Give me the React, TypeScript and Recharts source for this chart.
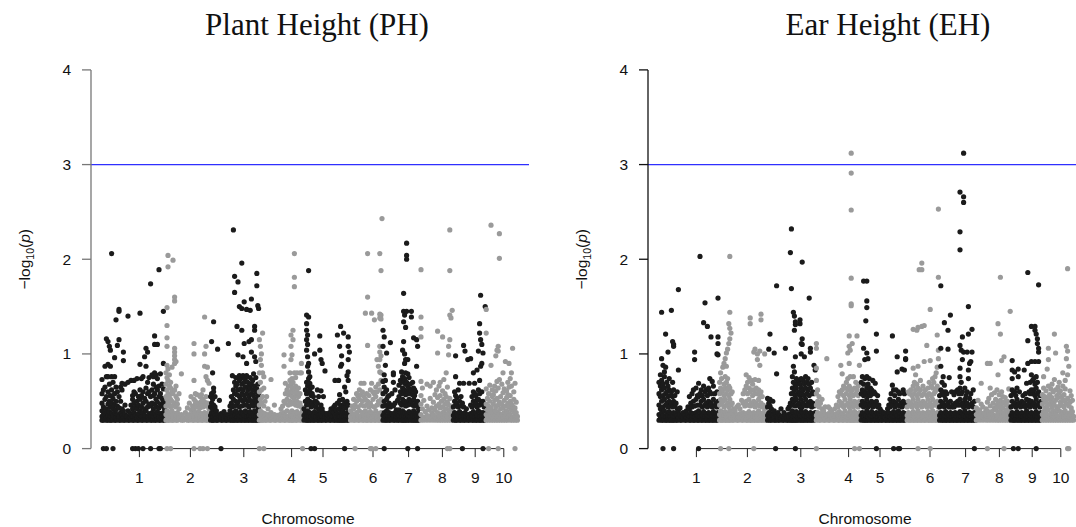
import { ReferenceLine, Scatter, ScatterChart, XAxis, YAxis } from "recharts";

// Each row: [cumulative position (Mb), then the -log10(p) values of the markers at that position]

// ---- Plant Height (PH) ----
const phChr1 = [
  [55, 0.3, 0.34, 0.4, 0.48, 0.58, 0.73], [62, 0.3, 0.36, 0.44, 0.62, 0], [70, 0.31, 0.38, 0.52, 0.65, 0.87],
  [77, 0.3, 0.33, 0.42, 0.55, 0.76, 1.16, 0], [85, 0.3, 0.35, 0.47, 0.6, 0.76, 1.13, 0.89], [92, 0.31, 0.39, 0.5, 0.68, 1.08],
  [97, 0.3, 0.34, 0.44, 0.56, 0.87, 1.04], [103, 0.3, 0.37, 0.48, 0.62, 0.76, 2.06], [110, 0.31, 0.35, 0.42, 0.53, 0.7, 0],
  [118, 0.3, 0.38, 0.46, 0.58, 0.76, 0.96], [125, 0.3, 0.33, 0.41, 0.5, 0.65, 1.36], [132, 0.31, 0.36, 0.45, 0.6, 1.09],
  [140, 0.3, 0.34, 0.43, 0.55, 1.15, 1.47, 1.45], [148, 0.3, 0.38, 0.5, 0.65], [155, 0.31, 0.35, 0.42, 0.62, 0.69],
  [162, 0.3, 0.33, 0.4, 1.02, 0.93], [170, 0.3, 0.36, 0.46, 0.68], [178, 0.31, 0.34], [185, 0.3, 0.4, 0.7, 1.4],
  [193, 0.3, 0.33, 0.38], [200, 0.31, 0.36, 0.46, 0.72], [208, 0.3, 0.34, 0.42, 0.56, 0.52, 0],
  [215, 0.3, 0.38, 0.48, 0.6, 0.72], [222, 0.31, 0.35, 0.44, 0.58, 0], [230, 0.3, 0.33, 0.42, 0.5, 0.74],
  [237, 0.3, 0.37, 0.46, 0.55, 0], [245, 0.31, 0.4, 0.52, 0.62, 0.89, 1.43], [252, 0.3, 0.34, 0.44, 0.56, 0.74],
  [260, 0.3, 0.38, 0.48, 0.6, 0.76, 0], [268, 0.31, 0.35, 0.42, 0.53, 0.97], [275, 0.3, 0.4, 0.5, 0.64, 0.87, 1.06],
  [283, 0.3, 0.34, 0.44, 0.58, 0.7, 1.02], [290, 0.31, 0.37, 0.47, 0.6, 0.75], [298, 0.3, 0.35, 0.45, 0.55, 1.74, 0],
  [305, 0.3, 0.38, 0.48, 0.62, 0.78], [312, 0.31, 0.34, 0.42, 0.56, 0.68, 0.76], [318, 0.3, 0.37, 0.47, 0.58, 0.8, 1.1, 1.19],
  [325, 0.3, 0.35, 0.44, 0.52, 0.65, 0.78], [332, 0.31, 0.39, 0.49, 0.62, 0.74, 1.1], [340, 0.3, 0.34, 0.43, 0.55, 0.66, 1.89, 0],
  [347, 0.3, 0.37, 0.47, 0.58, 0.79, 0], [355, 0.31, 0.35, 0.45, 0.53, 0.68], [362, 0.3, 0.38, 0.5, 0.63, 0.9, 1.45],
  [368, 0.3, 0.34, 0.42, 0.48],
];
const phChr2 = [
  [375, 0.3, 0.36, 0.45, 0.55, 0.68, 0.8], [380, 0.31, 0.4, 0.52, 0.62, 0.75, 0.88, 1.08, 1.17, 1.3, 1.49, 0],
  [385, 0.3, 0.34, 0.48, 0.58, 0.72, 0.84, 2.04, 1.92], [392, 0.3, 0.38, 0.46, 0.56, 0.66, 0.78],
  [398, 0.31, 0.35, 0.44, 0.52, 0.64, 0.7, 0], [405, 0.3, 0.4, 0.5, 0.6, 0.86], [410, 0.3, 0.34, 0.45, 0.58, 1.99],
  [418, 0.31, 0.37, 0.48, 0.62, 0.9, 0.94, 0.98, 1.02, 1.06, 1.56, 1.6], [425, 0.3, 0.35, 0.44, 0.55, 0.66, 0.92],
  [432, 0.3, 0.38, 0.47, 0.52], [440, 0.31, 0.34, 0.42, 0.58], [452, 0.3, 0.36, 0.79], [462, 0.3, 0.33],
  [472, 0.31, 0.38], [482, 0.3, 0.34, 0.43], [492, 0.3, 0.36, 0.48], [500, 0.31, 0.33, 0.41, 0.55],
  [508, 0.3, 0.37, 0.45], [515, 0.3, 0.34, 0.42, 0.52, 1.11, 1.0, 0.72, 0], [522, 0.31, 0.38, 0.47, 0.58, 0.5],
  [530, 0.3, 0.35, 0.44, 0.57], [538, 0.3, 0.39, 0.48], [545, 0.31, 0.34, 0.43, 0.55, 0],
  [552, 0.3, 0.37, 0.46, 0.57, 0.5], [560, 0.3, 0.35, 0.44, 0.52, 0.62, 0], [568, 0.31, 0.38, 0.49, 0.87, 1.39, 1.0],
  [575, 0.3, 0.34, 0.45, 0.55, 0.76, 1.08], [582, 0.3, 0.37, 0.48, 0.72, 0.86, 0], [590, 0.31, 0.35, 0.42, 0.69],
];
const phChr3 = [
  [598, 0.3, 0.35, 0.44, 0.55], [603, 0.31, 0.38, 0.48, 0.58, 1.13], [608, 0.3, 0.34, 0.42, 0.52, 0.8],
  [613, 0.3, 0.37, 0.46, 0.6, 0.64, 1.34], [620, 0.31, 0.35, 0.44, 0.55], [627, 0.3, 0.33, 0.4], [633, 0.3, 0.36, 1.05],
  [642, 0.31, 0.34, 0.51], [650, 0.3, 0.33, 0.37, 0], [658, 0.3, 0.35], [665, 0.31, 0.33, 0.39], [673, 0.3, 0.34],
  [680, 0.3, 0.32, 0.36], [687, 0.31, 0.35, 1.11], [695, 0.3, 0.33, 0.4, 0.45], [702, 0.3, 0.36, 0.48, 0.55],
  [707, 0.31, 0.34, 0.44, 0.77], [712, 0.3, 0.38, 0.52, 0.62, 2.31], [718, 0.3, 0.35, 0.45, 0.58, 0.7, 1.65, 1.82],
  [724, 0.31, 0.4, 0.5, 0.66, 0.75], [730, 0.3, 0.34, 0.46, 0.57, 0.68, 1.29], [735, 0.3, 0.37, 0.49, 0.62, 0.99, 1.76],
  [742, 0.31, 0.35, 0.44, 0.55, 0.72, 0.77, 1.5], [748, 0.3, 0.39, 0.52, 0.63, 0.74],
  [754, 0.3, 0.34, 0.45, 0.58, 0.68, 1.25, 1.48, 1.96], [760, 0.31, 0.37, 0.5, 0.62, 0.77, 0.97],
  [766, 0.3, 0.35, 0.46, 0.56, 0.7, 1.11, 1.55], [772, 0.3, 0.4, 0.52, 0.65, 0.74],
  [778, 0.31, 0.34, 0.46, 0.58, 0.77, 0.9, 1.47], [784, 0.3, 0.38, 0.5, 0.62, 0.7], [790, 0.3, 0.35, 0.44, 0.55, 0.66, 1.13],
  [796, 0.31, 0.39, 0.51, 0.64, 0.75, 1.46], [802, 0.3, 0.34, 0.46, 0.58, 0.68, 1.02, 1.15, 1.58],
  [808, 0.3, 0.37, 0.49, 0.62, 0.72], [813, 0.31, 0.35, 0.45, 0.56, 0.79], [818, 0.3, 0.4, 0.52, 0.66, 0.97, 1.25, 1.29],
  [824, 0.3, 0.34, 0.47, 0.6, 0.75, 0.92], [829, 0.31, 0.38, 0.5, 0.63, 1.72, 1.85], [834, 0.3, 0.35, 0.44, 0.55, 0.68, 1.51],
  [838, 0.3, 0.42, 0.58, 1.48],
];
const phChr4 = [
  [842, 0.3, 0.36, 0.46, 0.6, 0.8, 1.15, 0], [847, 0.31, 0.4, 0.52, 0.7, 0.94, 1.08], [852, 0.3, 0.35, 0.48, 0.62, 0.88, 1.0],
  [858, 0.3, 0.38, 0.55, 0.8, 1.22], [864, 0.31, 0.34, 0.45, 0.64, 0.76, 0], [870, 0.3, 0.37, 0.5], [878, 0.3, 0.34, 0.55],
  [885, 0.31, 0.36, 0.42], [893, 0.3, 0.33], [900, 0.3, 0.38, 0.73], [908, 0.31, 0.34], [917, 0.3, 0.36, 0.46],
  [925, 0.3, 0.33], [933, 0.31, 0.35], [942, 0.3, 0.33], [950, 0.3, 0.37, 0.42], [958, 0.31, 0.34, 0.45],
  [965, 0.3, 0.38, 0.5, 0.87, 0.99], [972, 0.3, 0.35, 0.48, 0.58, 0.69], [980, 0.31, 0.4, 0.52, 0.62],
  [987, 0.3, 0.34, 0.46, 0.57, 0.66], [995, 0.3, 0.38, 0.5, 0.6, 0.72, 0.8], [1000, 0.31, 0.35, 0.47, 0.58, 0.68, 0.94, 1.08, 1.2],
  [1005, 0.3, 0.4, 0.55, 0.64, 0.74, 0.99], [1010, 0.3, 0.34, 0.48, 0.6, 0.7, 1.15, 1.25],
  [1017, 0.31, 0.38, 0.52, 0.62, 0.8, 1.71, 1.81, 2.06], [1023, 0.3, 0.35, 0.46, 0.56, 0.66, 0.75],
  [1030, 0.3, 0.39, 0.5, 0.6, 0.8], [1037, 0.31, 0.34, 0.45, 0.55, 0.64], [1045, 0.3, 0.37, 0.48, 0.58, 0.8],
  [1052, 0.3, 0.35, 0.44, 0.9, 0.8], [1058, 0.31, 0.33, 0.4, 0],
];
const phChr5 = [
  [1065, 0.3, 0.35, 0.42], [1072, 0.31, 0.38, 0.5, 0.62], [1078, 0.3, 0.34, 0.46, 0.58, 0.7, 1.04, 1.15, 1.25, 1.32, 1.41],
  [1083, 0.3, 0.4, 0.52, 0.66, 0.87, 0.97, 1.1, 1.2], [1088, 0.31, 0.35, 0.47, 0.6, 0.74, 0.81, 0.9, 1.39, 1.88],
  [1094, 0.3, 0.38, 0.5, 0.62, 0.69, 0.76], [1100, 0.3, 0.34, 0.44, 0.56, 0.65, 0], [1106, 0.31, 0.37, 0.48, 0.58, 0.65],
  [1112, 0.3, 0.35, 0.45, 0.55], [1118, 0.3, 0.39, 0.5, 1.0, 0], [1125, 0.31, 0.34, 0.44, 0.5], [1132, 0.3, 0.37, 0.48, 0.62],
  [1138, 0.3, 0.35, 0.42, 0.55], [1144, 0.31, 0.33, 0.4, 1.04, 1.19], [1150, 0.3, 0.36, 0.46, 0.61, 0.94],
  [1156, 0.3, 0.34, 0.42, 0.9], [1162, 0.31, 0.38, 0.55], [1170, 0.3, 0.34, 0.82], [1178, 0.3, 0.33, 0.37],
  [1186, 0.31, 0.35], [1193, 0.3, 0.33, 0.38], [1200, 0.3, 0.36, 0.42], [1207, 0.31, 0.34, 0.4], [1214, 0.3, 0.38, 0.44],
  [1220, 0.3, 0.35, 0.46, 0.72], [1226, 0.31, 0.33, 0.41], [1232, 0.3, 0.37, 0.48, 1.2], [1238, 0.3, 0.35, 0.42, 0.72],
  [1243, 0.31, 0.34, 0.51, 0.57, 1.08], [1248, 0.3, 0.38, 0.46, 0.87, 1.29], [1253, 0.3, 0.35, 0.44, 0.89, 0.98],
  [1258, 0.31, 0.4, 0.52], [1263, 0.3, 0.34, 0.45, 1.22], [1268, 0.3, 0.37, 0.48, 0.65, 0], [1274, 0.31, 0.35, 0.43, 0.6],
  [1280, 0.3, 0.38, 0.5, 0.77], [1286, 0.3, 0.34, 0.46, 0.72, 0.81, 0.94, 1.08, 1.18], [1292, 0.31, 0.37, 1.02],
];
const phChr6 = [
  [1298, 0.3, 0.34, 0.4], [1306, 0.31, 0.37, 0.45], [1313, 0.3, 0.35, 0.42, 0.52], [1320, 0.3, 0.33, 0.46, 0],
  [1328, 0.31, 0.38, 0.5, 0.58], [1335, 0.3, 0.35, 0.44, 0.55], [1342, 0.3, 0.4, 0.52, 0.62], [1350, 0.31, 0.34, 0.46, 0.57, 0.69],
  [1357, 0.3, 0.38, 0.5, 0.6], [1365, 0.3, 0.35, 0.45, 0.55, 0.69], [1372, 0.31, 0.4, 0.52, 1.43], [1378, 0.3, 0.34, 0.46, 0.58],
  [1383, 0.3, 0.37, 0.5, 1.09, 1.6, 2.06], [1390, 0.31, 0.35, 0.44, 0.56], [1397, 0.3, 0.39, 0.48, 0.62, 0],
  [1403, 0.3, 0.34, 0.45, 0.69, 1.43, 0], [1410, 0.31, 0.37, 0.52, 0.6], [1417, 0.3, 0.35, 0.44, 0.58, 1.36],
  [1424, 0.3, 0.4, 0.55, 0.65, 0], [1430, 0.31, 0.34, 0.46, 0.6, 0.94], [1437, 0.3, 0.37, 0.5, 0.68, 0.87],
  [1444, 0.3, 0.35, 0.48, 0.62, 0.81, 0.94, 1.02, 1.08, 1.38, 1.42, 2.06], [1450, 0.31, 0.38, 0.52, 0.72, 0.8, 0.98, 1.37, 1.41, 1.88],
  [1455, 0.3, 0.45, 2.43],
];
const phChr7 = [
  [1460, 0.3, 0.35, 0.45, 0.58, 0.71, 1.08, 1.25], [1466, 0.31, 0.38, 0.5, 0.65, 0.78, 1.18, 0], [1472, 0.3, 0.34, 0.46, 0.6, 0.72, 0.88],
  [1478, 0.3, 0.4, 0.52, 0.62, 1.01], [1484, 0.31, 0.35, 0.44, 0.55], [1490, 0.3, 0.38, 0.48, 0.56], [1497, 0.3, 0.34, 0.44, 1.12],
  [1504, 0.31, 0.37, 0.46, 0.58], [1512, 0.3, 0.35, 0.45, 0.7, 0.78, 0.8], [1520, 0.3, 0.38, 0.48, 0.62], [1527, 0.31, 0.34, 0.41],
  [1533, 0.3, 0.36, 0.51], [1540, 0.3, 0.35, 0.41, 0.55, 0.67], [1547, 0.31, 0.38, 0.48, 0.6, 0.72],
  [1553, 0.3, 0.34, 0.46, 0.58, 0.7, 0.81], [1558, 0.3, 0.4, 0.52, 0.64, 0.76, 1.04],
  [1563, 0.31, 0.35, 0.47, 0.6, 0.72, 1.13, 1.34, 1.45, 1.64], [1568, 0.3, 0.38, 0.5, 0.62, 0.74, 0.9, 1.0, 1.41],
  [1573, 0.3, 0.34, 0.45, 0.57, 0.68, 0.8, 0.94, 1.28], [1578, 0.31, 0.37, 0.49, 0.6, 0.7, 2.0, 2.04, 2.17, 1.45],
  [1584, 0.3, 0.35, 0.46, 0.58, 0.66, 0.79, 0.94, 0], [1590, 0.3, 0.39, 0.52, 0.63, 0.75], [1596, 0.31, 0.34, 0.47, 0.58, 0.68],
  [1602, 0.3, 0.37, 0.5, 0.62, 1.39, 1.45], [1608, 0.3, 0.35, 0.46, 0.57, 0.7], [1613, 0.31, 0.4, 0.52, 0.64, 1.17],
  [1618, 0.3, 0.34, 0.45, 0.56, 0.62], [1623, 0.3, 0.37, 0.48, 0.6], [1628, 0.31, 0.35, 0.46, 0.87, 1.15],
  [1633, 0.3, 0.38, 0.5, 1.08, 0], [1638, 0.3, 0.34, 0.42],
];
const phChr8 = [
  [1650, 0.3, 0.36, 0.47, 0.56, 0.71, 1.18, 1.27, 1.39, 1.89], [1657, 0.31, 0.42, 0.64], [1664, 0.3, 0.33, 0.51],
  [1672, 0.32, 0.39], [1680, 0.3, 0.35, 0.45, 0.68], [1688, 0.31, 0.41], [1696, 0.3, 0.34, 0.53, 0.66], [1704, 0.31, 0.38, 0.43],
  [1712, 0.3, 0.36, 0.49, 0.7], [1720, 0.32, 0.41, 0.57], [1727, 0.3, 0.33, 0.45, 0.62], [1733, 0.31, 0.38, 0.54, 1.01, 1.24],
  [1740, 0.3, 0.35, 0.47, 0.66], [1746, 0.32, 0.43, 0.56, 0.7], [1752, 0.3, 0.37, 0.5], [1758, 0.31, 0.34, 0.44, 0.61, 1.18],
  [1764, 0.3, 0.39, 0.52, 0.73], [1770, 0.32, 0.36, 0.47, 0.58], [1776, 0.3, 0.42, 0.55, 0.8], [1782, 0.31, 0.35, 0.49, 0.65, 0],
  [1788, 0.3, 0.38, 0.46, 0.99, 1.08], [1794, 0.32, 0.41, 0.53, 1.15, 1.41, 1.88, 2.31, 0], [1800, 0.3, 0.36, 0.45, 1.38],
  [1806, 0.31, 0.39, 1.46],
];
const phChr9 = [
  [1812, 0.3, 0.35, 0.44], [1818, 0.31, 0.38, 0.5, 0.6], [1823, 0.3, 0.34, 0.46, 0.56, 0.76, 0.98], [1829, 0.3, 0.37, 0.48, 0.54],
  [1836, 0.31, 0.35, 0.44, 0.62], [1843, 0.3, 0.39, 0.5, 0.69], [1850, 0.3, 0.34, 0.45, 0.55], [1857, 0.31, 0.37, 0.48, 0],
  [1863, 0.3, 0.35, 0.44, 0.69, 1.09], [1870, 0.3, 0.38, 1.03], [1877, 0.31, 0.34, 0.42], [1884, 0.3, 0.36, 0.94],
  [1891, 0.3, 0.33, 0.69], [1898, 0.31, 0.37, 0.46, 0.95], [1905, 0.3, 0.35, 0.44, 0.55], [1912, 0.3, 0.39, 0.5, 0.6, 0.8],
  [1918, 0.31, 0.34, 0.46, 0.58, 0.69], [1924, 0.3, 0.37, 0.48, 0.56], [1930, 0.3, 0.35, 0.44, 0.52, 0.83],
  [1937, 0.31, 0.4, 0.52, 0.62, 1.03], [1943, 0.3, 0.34, 0.46, 0.58, 0.72, 1.22, 1.32], [1948, 0.3, 0.38, 0.5, 0.87, 1.15, 1.62],
  [1954, 0.31, 0.35, 0.47, 0.6, 0.9, 1.1], [1960, 0.3, 0.38, 0.5, 1.01, 0], [1966, 0.3, 0.34, 0.44], [1971, 0.31, 0.37, 1.5],
];
const phChr10 = [
  [1976, 0.3, 0.36, 0.47, 0.63, 1.22, 1.47], [1982, 0.32, 0.41, 0.53], [1988, 0.3, 0.34, 0.45, 0.58, 0],
  [1994, 0.31, 0.39, 0.5, 0.67], [2000, 0.3, 0.35, 0.43, 0.88, 2.36], [2006, 0.32, 0.38, 0.55, 0.62], [2012, 0.3, 0.33, 0.47, 0.57],
  [2018, 0.31, 0.4, 0.51, 0.66], [2024, 0.3, 0.36, 0.44, 0.61, 0.98], [2030, 0.32, 0.39, 0.53, 0.71, 1.04],
  [2036, 0.3, 0.34, 0.46, 0.64, 1.03, 1.08, 0], [2042, 0.31, 0.37, 0.49, 0.73, 2.01, 2.27], [2048, 0.3, 0.42, 0.55],
  [2054, 0.32, 0.36, 0.47, 0.68], [2060, 0.3, 0.33, 0.43, 0.59, 0.8], [2066, 0.31, 0.38, 0.51, 0.63], [2072, 0.3, 0.35, 0.45, 0.92],
  [2078, 0.32, 0.4, 0.54, 0.61], [2084, 0.3, 0.34, 0.48, 0.57, 0.7], [2090, 0.31, 0.37, 0.44, 0.65, 0.9],
  [2096, 0.3, 0.36, 0.5, 0.56, 0.74], [2102, 0.32, 0.41, 0.47, 0.66, 0.8], [2108, 0.3, 0.33, 0.45, 1.06],
  [2114, 0.31, 0.39, 0.52, 0.6], [2120, 0.3, 0.35, 0.43, 0.69, 0], [2126, 0.32, 0.38, 0.49], [2132, 0.3, 0.34],
];

// ---- Ear Height (EH) ----
const ehChr1 = [
  [55, 0.3, 0.36, 0.46, 0.58, 0.7], [62, 0.31, 0.34, 0.42, 0.55, 0.66, 0.78], [68, 0.3, 0.38, 0.5, 0.62, 0.72, 0.95, 1.44],
  [75, 0.3, 0.35, 0.44, 0.56, 0.68, 0.88, 0], [82, 0.31, 0.4, 0.52, 0.64, 0.76, 0.81], [88, 0.3, 0.34, 0.46, 0.58, 0.86, 1.21],
  [94, 0.3, 0.37, 0.48, 0.6, 0.7], [100, 0.31, 0.35, 0.44, 0.55, 0.66, 1.02], [106, 0.3, 0.39, 0.5, 0.62, 0.74],
  [112, 0.3, 0.34, 0.45, 0.56], [117, 0.31, 0.37, 0.48, 0.6, 1.46], [123, 0.3, 0.35, 0.44, 0.55, 0.7, 1.13],
  [128, 0.3, 0.38, 0.5, 0.62, 1.08, 1.1, 0], [134, 0.31, 0.34, 0.45, 0.56], [140, 0.3, 0.37, 0.48], [146, 0.3, 0.35, 0.42, 0.6],
  [152, 0.31, 0.33, 0.4, 0.83, 1.68], [160, 0.3, 0.36, 0.43], [168, 0.3, 0.34], [176, 0.31, 0.33, 0.38], [184, 0.3, 0.35],
  [192, 0.3, 0.33, 0.4], [200, 0.31, 0.36, 0.44], [207, 0.3, 0.34, 0.42, 0.55], [214, 0.3, 0.38, 0.48], [220, 0.31, 0.35, 0.44, 0.58],
  [227, 0.3, 0.37, 0.5, 0.62], [233, 0.3, 0.34, 0.45, 0.94, 1.02], [240, 0.31, 0.38, 0.52, 0.64], [247, 0.3, 0.35, 0.46, 0.56],
  [253, 0.3, 0.4, 0.55, 0.69, 0], [260, 0.31, 0.34, 0.46, 0.58, 2.03], [266, 0.3, 0.37, 0.5, 0.62], [272, 0.3, 0.35, 0.44, 0.56],
  [278, 0.31, 0.39, 0.52, 0.66, 1.33], [285, 0.3, 0.34, 0.46, 0.6, 1.54], [291, 0.3, 0.37, 0.48, 0.62],
  [297, 0.31, 0.35, 0.44, 0.56, 1.29], [303, 0.3, 0.38, 0.5, 0.64], [309, 0.3, 0.34, 0.46, 0.6, 0.74],
  [315, 0.31, 0.37, 0.48, 0.58, 1.18], [321, 0.3, 0.35, 0.44, 0.71], [327, 0.3, 0.39, 0.52, 0.66], [333, 0.31, 0.34, 0.45, 0.58],
  [339, 0.3, 0.37, 0.48], [345, 0.3, 0.35, 0.44, 0.6, 1.0], [350, 0.31, 0.38, 0.5, 0.99, 1.11, 1.18, 1.59],
];
const ehChr2 = [
  [358, 0.3, 0.36, 0.46, 0.58, 0.7], [363, 0.31, 0.4, 0.52, 0.64, 0.8, 0], [368, 0.3, 0.34, 0.48, 0.6, 0.74],
  [374, 0.3, 0.38, 0.5, 0.62, 0.86], [380, 0.31, 0.35, 0.44, 0.56, 0.68, 0.9], [386, 0.3, 0.39, 0.52, 0.64, 0.76, 0.95],
  [392, 0.3, 0.34, 0.46, 0.58, 0.7, 0.87, 1.01], [398, 0.31, 0.37, 0.48, 0.62, 0.74, 1.05],
  [404, 0.3, 0.35, 0.44, 0.56, 0.66, 1.11, 1.32, 0], [409, 0.3, 0.4, 0.52, 0.64, 1.16, 1.27, 1.44, 2.03],
  [415, 0.31, 0.34, 0.46, 0.58, 1.22], [421, 0.3, 0.37, 0.48, 0.6], [428, 0.3, 0.35, 0.42], [436, 0.31, 0.33, 0.4],
  [444, 0.3, 0.36, 0.44], [452, 0.3, 0.34, 0.46], [460, 0.31, 0.37, 0.42], [468, 0.3, 0.35, 0.51], [476, 0.3, 0.38, 0.48, 0.58],
  [484, 0.31, 0.34, 0.45, 0.62], [491, 0.3, 0.37, 0.5, 0.66, 0.78], [498, 0.3, 0.35, 0.46, 0.58, 0.7],
  [505, 0.31, 0.39, 0.52, 0.64, 0.75], [511, 0.3, 0.34, 0.45, 0.6, 1.32, 1.38], [517, 0.3, 0.37, 0.48, 0.62, 0.72],
  [523, 0.31, 0.35, 0.46, 0.56, 0.68], [529, 0.3, 0.38, 0.5, 0.62, 1.02, 0], [535, 0.3, 0.34, 0.44, 0.58, 0.73, 1.05],
  [541, 0.31, 0.37, 0.48, 0.64], [547, 0.3, 0.35, 0.46, 0.58, 1.0, 0.94], [553, 0.3, 0.4, 0.52, 0.62, 0.72],
  [559, 0.31, 0.34, 0.45, 0.56, 0.88, 1.03], [565, 0.3, 0.37, 0.48, 0.6, 1.36, 1.42], [571, 0.3, 0.35, 0.44, 0.55],
  [577, 0.31, 0.38, 0.46], [583, 0.3, 0.34, 0.42, 1.0], [590, 0.3, 0.36, 0.44],
];
const ehChr3 = [
  [598, 0.3, 0.35, 0.44, 0.53], [604, 0.31, 0.38, 0.48, 1.05], [610, 0.3, 0.34, 0.45, 0.52, 1.21], [617, 0.3, 0.37, 0.42],
  [624, 0.31, 0.35, 0.5], [631, 0.3, 0.33, 0.4, 1.01], [638, 0.3, 0.36, 0], [643, 0.31, 0.34, 0.79, 1.72], [650, 0.3, 0.33, 0.38],
  [658, 0.3, 0.35], [665, 0.31, 0.33, 0.42], [672, 0.3, 0.34], [680, 0.3, 0.32, 0.38], [687, 0.31, 0.35, 1.06], [694, 0.3, 0.33],
  [700, 0.3, 0.36, 0.42], [706, 0.31, 0.34, 0.44], [712, 0.3, 0.37, 0.48, 2.07], [717, 0.3, 0.35, 0.46, 0.58, 1.69, 2.32],
  [722, 0.31, 0.4, 0.52, 0.64, 0.76], [727, 0.3, 0.34, 0.46, 0.58, 0.7, 0.87, 1.44], [732, 0.3, 0.37, 0.5, 0.62, 0.81, 1.4, 1.25],
  [737, 0.31, 0.35, 0.45, 0.56, 0.67, 0.97, 1.31, 1.34, 0], [742, 0.3, 0.39, 0.52, 0.64, 0.74], [748, 0.3, 0.34, 0.46, 0.58, 0.7],
  [754, 0.31, 0.37, 0.48, 0.6, 0.72], [760, 0.3, 0.35, 0.44, 0.56, 0.68, 1.32, 1.36], [766, 0.3, 0.4, 0.52, 0.64, 0.74, 1.0, 1.11],
  [771, 0.31, 0.34, 0.44, 0.58, 1.1, 1.16, 1.97], [776, 0.3, 0.37, 0.48, 0.62, 0.72], [782, 0.3, 0.35, 0.46, 0.56, 0.68, 0.97],
  [788, 0.31, 0.39, 0.52, 0.64, 0.76], [794, 0.3, 0.34, 0.45, 0.58, 0.7], [800, 0.3, 0.37, 0.48, 0.62, 0.74],
  [806, 0.31, 0.35, 0.46, 0.56, 0.68, 1.59], [812, 0.3, 0.38, 0.5, 0.64, 1.02, 1.06], [818, 0.3, 0.34, 0.44, 0.58, 0.7],
  [824, 0.31, 0.37, 0.48, 0.6], [830, 0.3, 0.35, 0.45, 0.58, 0.88], [836, 0.31, 0.38, 0.83],
];
const ehChr4 = [
  [842, 0.3, 0.35, 0.46, 0.58, 0.72, 0.85, 1.06, 1.11, 0], [848, 0.31, 0.38, 0.5, 0.62], [855, 0.3, 0.34, 0.44, 0.55],
  [862, 0.3, 0.37, 0.48], [870, 0.31, 0.35, 0.42, 0.52], [878, 0.3, 0.33, 0.4], [886, 0.3, 0.36, 0.44], [894, 0.31, 0.34, 0.95],
  [902, 0.3, 0.37, 0.44], [910, 0.3, 0.35, 0.42], [918, 0.31, 0.33, 0.4], [926, 0.3, 0.36], [934, 0.3, 0.34, 0.42],
  [942, 0.31, 0.37, 0.46], [950, 0.3, 0.35, 0.44, 0.55], [957, 0.3, 0.39, 0.5, 0.6], [964, 0.31, 0.34, 0.46, 0.58, 0.88],
  [971, 0.3, 0.37, 0.48, 0.62, 0.79], [978, 0.3, 0.35, 0.44, 0.56, 0.66], [985, 0.31, 0.4, 0.52, 0.64],
  [992, 0.3, 0.34, 0.46, 0.58, 0.7], [999, 0.3, 0.37, 0.48, 0.62, 0.74, 1.01], [1006, 0.31, 0.35, 0.44, 0.56, 0.66, 0.9, 1.08, 1.19],
  [1011, 0.3, 0.4, 0.52, 0.64, 0.76, 1.04], [1016, 0.3, 0.34, 0.46, 0.58, 1.51, 1.53, 1.8, 2.52, 2.91, 3.12],
  [1021, 0.31, 0.37, 0.48, 0.62, 1.11], [1027, 0.3, 0.35, 0.44, 0.56, 0.76], [1033, 0.3, 0.39, 0.5, 0.64, 0],
  [1039, 0.31, 0.34, 0.46, 0.58, 0.7], [1045, 0.3, 0.37, 0.48, 0.62, 1.19], [1051, 0.3, 0.35, 0.44, 0.56, 0.66],
  [1057, 0.31, 0.38, 0.5, 0.88, 0],
];
const ehChr5 = [
  [1066, 0.3, 0.35, 0.46, 0.58, 0.7], [1072, 0.31, 0.38, 0.5, 0.62, 0.76], [1078, 0.3, 0.34, 0.44, 0.56, 0.68, 1.06, 1.77],
  [1084, 0.3, 0.37, 0.48, 0.6, 0.74, 0.94], [1089, 0.31, 0.35, 0.46, 0.58, 1.35],
  [1094, 0.3, 0.4, 0.52, 0.64, 0.76, 1.01, 1.49, 1.56, 1.77], [1100, 0.3, 0.34, 0.44, 0.56, 0.68, 0.95],
  [1106, 0.31, 0.37, 0.48, 0.6, 0.74], [1112, 0.3, 0.35, 0.46, 0.56, 0.64], [1118, 0.3, 0.39, 0.5, 0.62],
  [1124, 0.31, 0.34, 0.44, 0.58, 0.72], [1130, 0.3, 0.37, 0.48, 0.6], [1136, 0.3, 0.35, 0.46, 0.58, 0.69],
  [1142, 0.31, 0.38, 0.5, 1.03, 1.21, 0], [1148, 0.3, 0.34, 0.44, 0.56], [1154, 0.3, 0.37, 0.46], [1160, 0.31, 0.35, 0.42],
  [1166, 0.3, 0.33, 0.4], [1172, 0.3, 0.36], [1179, 0.31, 0.34, 0.38], [1186, 0.3, 0.33], [1192, 0.3, 0.37],
  [1198, 0.31, 0.35, 0.42], [1204, 0.3, 0.38, 0.46], [1210, 0.3, 0.34, 0.44, 0.52], [1216, 0.31, 0.37, 0.48, 0.58],
  [1222, 0.3, 0.35, 0.46, 0.67, 1.19], [1228, 0.3, 0.39, 0.5, 0.62, 0], [1234, 0.31, 0.34, 0.44, 0.56], [1240, 0.3, 0.37, 0.48, 0.62],
  [1246, 0.3, 0.35, 0.46, 0.81, 0.97], [1252, 0.31, 0.4, 0.52, 0.6, 0], [1258, 0.3, 0.34, 0.45, 0.58, 0], [1264, 0.3, 0.37, 0.48],
  [1270, 0.31, 0.35, 0.44, 0.84], [1276, 0.3, 0.38, 0.5, 0.62], [1282, 0.3, 0.34, 0.46, 0.58, 0.83],
  [1288, 0.31, 0.37, 0.48, 0.94, 0.95, 1.03],
];
const ehChr6 = [
  [1296, 0.3, 0.35, 0.44], [1302, 0.31, 0.38, 0.5, 0.6], [1308, 0.3, 0.34, 0.46, 0.58], [1314, 0.3, 0.37, 0.48, 0.62],
  [1320, 0.31, 0.35, 0.44, 0.56], [1326, 0.3, 0.39, 0.52, 0.66, 0.85, 1.26], [1332, 0.3, 0.34, 0.46, 0.58, 0.7],
  [1338, 0.31, 0.37, 0.48, 0.62, 0.78], [1344, 0.3, 0.35, 0.44, 0.56, 0.68, 1.25], [1350, 0.3, 0.4, 0.52, 0.64, 0.87, 1.28, 0],
  [1356, 0.31, 0.34, 0.46, 0.58, 1.89], [1362, 0.3, 0.37, 0.48, 0.62, 0.72], [1369, 0.3, 0.35, 0.44, 0.56, 1.29, 1.89, 1.96],
  [1375, 0.31, 0.38, 0.5, 0.66], [1381, 0.3, 0.34, 0.46, 0.58, 0.92, 1.3], [1387, 0.3, 0.37, 0.48, 0.62],
  [1394, 0.31, 0.35, 0.44, 0.56, 1.09], [1400, 0.3, 0.39, 0.52, 0.64], [1406, 0.3, 0.34, 0.46, 0.58, 0.7],
  [1411, 0.31, 0.37, 0.48, 0.93, 1.47, 0], [1417, 0.3, 0.35, 0.44, 0.56, 0.66], [1423, 0.3, 0.4, 0.52, 0.64, 0.74],
  [1429, 0.31, 0.34, 0.46, 0.58, 0.7], [1435, 0.3, 0.37, 0.48, 0.6, 0.76], [1441, 0.3, 0.35, 0.46, 0.62, 0.8],
  [1446, 0.31, 0.38, 0.5, 0.66, 0.86, 1.2], [1452, 0.3, 0.44, 0.95, 1.04, 1.81, 2.53],
];
const ehChr7 = [
  [1458, 0.3, 0.35, 0.44, 0.56], [1464, 0.31, 0.38, 0.5, 0.62, 0.87, 1.06, 1.72], [1470, 0.3, 0.34, 0.46, 0.58, 0.7],
  [1476, 0.3, 0.37, 0.48, 0.6, 0.76], [1482, 0.31, 0.35, 0.44, 0.56, 0.67, 1.33], [1488, 0.3, 0.39, 0.52, 0.6],
  [1494, 0.3, 0.34, 0.46, 0.58], [1500, 0.31, 0.37, 0.48, 1.05, 1.25], [1506, 0.3, 0.35, 0.44, 0.75], [1512, 0.3, 0.38, 0.5, 1.41],
  [1518, 0.31, 0.34, 0.44, 0.6], [1524, 0.3, 0.37, 0.46], [1530, 0.3, 0.35, 0.44, 0.57], [1536, 0.31, 0.38, 0.48, 0.6],
  [1542, 0.3, 0.34, 0.46], [1548, 0.3, 0.37, 0.5, 0.62], [1554, 0.31, 0.35, 0.46, 0.58],
  [1560, 0.3, 0.39, 0.52, 0.64, 0.76, 0.85, 1.09, 2.1, 2.29, 2.71], [1566, 0.3, 0.34, 0.46, 0.58, 0.7, 1.04],
  [1572, 0.31, 0.37, 0.48, 0.6, 0.94, 1.18], [1578, 0.3, 0.35, 0.44, 0.48, 1.02, 2.6, 2.66, 3.12], [1584, 0.3, 0.4, 0.52, 0.64],
  [1590, 0.31, 0.34, 0.46, 0.56], [1596, 0.3, 0.37, 0.48, 0.6, 1.02], [1602, 0.3, 0.35, 0.44, 0.74, 0.83, 1.21, 1.5],
  [1608, 0.31, 0.38, 0.53, 0.9], [1614, 0.3, 0.34, 0.46, 0.58, 0.92], [1620, 0.3, 0.37, 0.48, 1.02, 1.26],
  [1626, 0.31, 0.35, 0.44, 0.62], [1632, 0.3, 0.38, 0.5, 0], [1638, 0.3, 0.34],
];
const ehChr8 = [
  [1642, 0.3, 0.36, 0.43], [1650, 0.32, 0.39, 0.51], [1658, 0.3, 0.34, 0.41], [1666, 0.31, 0.37, 0.47, 0.69], [1674, 0.3, 0.33, 0.44],
  [1682, 0.32, 0.38], [1690, 0.3, 0.35, 0.42], [1697, 0.31, 0.4, 0.49, 0.9, 0], [1704, 0.3, 0.36, 0.53],
  [1711, 0.32, 0.34, 0.45, 0.64, 0.9], [1718, 0.3, 0.39, 0.57], [1725, 0.31, 0.36, 0.48], [1732, 0.3, 0.33, 0.43, 0.59],
  [1738, 0.32, 0.41, 0.52], [1745, 0.3, 0.35, 0.46, 0.62], [1750, 0.31, 0.38, 0.49, 0.78, 1.32], [1756, 0.3, 0.34, 0.44, 0.57],
  [1762, 0.32, 0.4, 0.51, 1.21, 1.81], [1768, 0.3, 0.36, 0.47, 0.6, 0.93], [1774, 0.31, 0.33, 0.43, 0.55],
  [1780, 0.3, 0.38, 0.49, 0.97, 0], [1786, 0.32, 0.35, 0.54], [1792, 0.3, 0.41, 0.46], [1798, 0.31, 0.37, 0.5],
  [1804, 0.3, 0.34, 0.45, 0.63], [1811, 0.32, 0.39, 1.45],
];
const ehChr9 = [
  [1815, 0.3, 0.35, 0.44, 0.56], [1821, 0.31, 0.38, 0.5, 0.62, 0.74, 0.83, 0.93], [1827, 0.3, 0.34, 0.46, 0.58, 0],
  [1833, 0.3, 0.37, 0.48, 0.6, 0.81], [1839, 0.31, 0.35, 0.44, 0.56], [1845, 0.3, 0.39, 0.52, 0.64],
  [1851, 0.3, 0.34, 0.46, 0.76, 0.84, 0], [1857, 0.31, 0.37, 0.48, 0.6], [1863, 0.3, 0.35, 0.44], [1869, 0.3, 0.38, 0.5],
  [1875, 0.31, 0.34, 0.46, 0.56], [1881, 0.3, 0.37, 0.48, 0.83], [1887, 0.3, 0.35, 0.44, 0.58], [1893, 0.31, 0.4, 0.52, 0.69],
  [1899, 0.3, 0.34, 0.46, 0.9, 1.14, 1.86], [1905, 0.3, 0.37, 0.48, 0.6, 0.51], [1911, 0.31, 0.35, 0.44, 0.58, 0.7],
  [1917, 0.3, 0.38, 0.5, 0.62, 0.78, 0.92, 1.29], [1923, 0.3, 0.34, 0.46, 0.58, 0.72, 0.6], [1929, 0.31, 0.37, 0.48, 0.62, 0.74],
  [1935, 0.3, 0.35, 0.44, 0.56, 0.68, 0.92, 1.25, 1.29], [1941, 0.3, 0.39, 0.52, 0.64, 0.76, 1.21, 0],
  [1947, 0.31, 0.34, 0.46, 0.58, 0.7, 1.16, 1.11], [1953, 0.3, 0.37, 0.48, 0.6, 0.92, 1.02, 1.06, 1.73],
  [1959, 0.3, 0.35, 0.44, 0.56], [1965, 0.31, 0.38, 0.5],
];
const ehChr10 = [
  [1972, 0.3, 0.36, 0.47, 0.57], [1978, 0.32, 0.39, 0.52, 0.64, 0.76], [1984, 0.3, 0.34, 0.43, 0.55], [1990, 0.31, 0.38, 0.49, 0.61],
  [1996, 0.3, 0.35, 0.45, 0.84], [2002, 0.32, 0.41, 0.53, 0.66, 0.94, 1.06], [2008, 0.3, 0.33, 0.47, 0.57],
  [2014, 0.31, 0.37, 0.5, 0.63], [2020, 0.3, 0.36, 0.44, 0.54, 0.68], [2026, 0.32, 0.4, 0.48, 0.6],
  [2032, 0.3, 0.34, 0.46, 0.73, 1.21], [2038, 0.31, 0.38, 0.51, 0.62, 1.01], [2044, 0.3, 0.35, 0.43, 0.56],
  [2050, 0.32, 0.41, 0.54, 0.65], [2056, 0.3, 0.33, 0.45, 0.59, 0.7], [2062, 0.31, 0.39, 0.49, 0.61], [2068, 0.3, 0.36, 0.46, 0.55],
  [2074, 0.32, 0.38, 0.52, 0.66, 0.8], [2080, 0.3, 0.34, 0.44, 0.57], [2086, 0.31, 0.4, 0.5, 0.63, 0.72],
  [2092, 0.3, 0.35, 0.47, 0.95, 1.08], [2098, 0.32, 0.37, 0.53, 0.78, 1.03, 1.9, 0], [2104, 0.3, 0.34, 0.45, 0.87, 0],
  [2110, 0.31, 0.38, 0.49, 0.61], [2116, 0.3, 0.36, 0.43, 0.56], [2122, 0.32, 0.39, 0.51], [2128, 0.3, 0.34],
];

const phChroms = [phChr1, phChr2, phChr3, phChr4, phChr5, phChr6, phChr7, phChr8, phChr9, phChr10];
const ehChroms = [ehChr1, ehChr2, ehChr3, ehChr4, ehChr5, ehChr6, ehChr7, ehChr8, ehChr9, ehChr10];

const chromTicks = [242, 497, 764, 1003, 1160, 1410, 1588, 1757, 1921, 2064];
const chromNames = ["1", "2", "3", "4", "5", "6", "7", "8", "9", "10"];
const yTicks = [0, 1, 2, 3, 4];
const threshold = 3;

const BLACK = "#1b1b1b";
const GRAY = "#9a9a9a";
const SANS = "'Liberation Sans', Arial, sans-serif";

const toPoints = (rows: number[][]) => rows.flatMap(([x, ...ys]) => ys.map((y) => ({ x, y })));

function YTitle({ viewBox }: any) {
  const x = viewBox.x + 30;
  const y = viewBox.y + viewBox.height / 2;
  return (
    <text x={x} y={y} transform={`rotate(-90 ${x} ${y})`} textAnchor="middle" fontSize={15.5} fontFamily={SANS} fill="#111">
      −log<tspan fontSize={10.5} dy={4}>10</tspan>
      <tspan dy={-4}>(</tspan>
      <tspan fontStyle="italic">p</tspan>)
    </text>
  );
}

function XTitle({ viewBox }: any) {
  return (
    <text x={viewBox.x + viewBox.width / 2 - 2} y={viewBox.y + 75.5} textAnchor="middle" fontSize={15.5} fontFamily={SANS} fill="#111">
      Chromosome
    </text>
  );
}

function Panel({ chroms, axisColor }: { chroms: number[][][]; axisColor: string }) {
  return (
    <ScatterChart width={540} height={527} margin={{ top: 69.9, right: 11, bottom: 18.4, left: 0 }}>
      <XAxis
        type="number"
        dataKey="x"
        domain={[0, 2190]}
        ticks={chromTicks}
        interval={0}
        tickFormatter={(v) => chromNames[chromTicks.indexOf(v)]}
        axisLine={false}
        tickLine={{ stroke: "#222" }}
        tickSize={8.5}
        tickMargin={15}
        height={60}
        tick={{ fill: "#111", fontSize: 15.5, fontFamily: SANS }}
        label={{ content: (p: any) => <XTitle viewBox={p.viewBox} /> }}
      />
      <YAxis
        type="number"
        dataKey="y"
        domain={[0, 4]}
        ticks={yTicks}
        width={91}
        tickSize={9}
        tickMargin={11}
        axisLine={{ stroke: axisColor, strokeWidth: 1.3 }}
        tickLine={{ stroke: axisColor, strokeWidth: 1.3 }}
        tick={{ fill: "#111", fontSize: 15.5, fontFamily: SANS }}
        label={{ content: (p: any) => <YTitle viewBox={p.viewBox} /> }}
      />
      <ReferenceLine segment={[{ x: chromTicks[0], y: 0 }, { x: chromTicks[9], y: 0 }]} stroke="#222" />
      <ReferenceLine y={threshold} stroke="#2f2fff" strokeWidth={1.3} />
      {chroms.map((rows, i) => (
        <Scatter
          key={i}
          data={toPoints(rows)}
          fill={i % 2 === 0 ? BLACK : GRAY}
          isAnimationActive={false}
          shape={(p: any) => <circle cx={p.cx} cy={p.cy} r={2.6} fill={i % 2 === 0 ? BLACK : GRAY} />}
        />
      ))}
    </ScatterChart>
  );
}

export default function App() {
  return (
    <div style={{ position: "absolute", left: 0, top: 0, width: 1076, height: 527, overflow: "hidden", background: "#fff" }}>
      <div style={{ position: "absolute", left: 0, top: 0 }}>
        <Panel chroms={phChroms} axisColor="#777" />
      </div>
      <div style={{ position: "absolute", left: 556.7, top: 0 }}>
        <Panel chroms={ehChroms} axisColor="#111" />
      </div>
      <svg width={1076} height={60} style={{ position: "absolute", left: 0, top: 0 }}>
        <text x={317} y={35.3} textAnchor="middle" fontSize={31} fontFamily="'Liberation Serif', 'Times New Roman', serif" fill="#111">
          Plant Height (PH)
        </text>
        <text x={888} y={35.3} textAnchor="middle" fontSize={31} fontFamily="'Liberation Serif', 'Times New Roman', serif" fill="#111">
          Ear Height (EH)
        </text>
      </svg>
    </div>
  );
}
